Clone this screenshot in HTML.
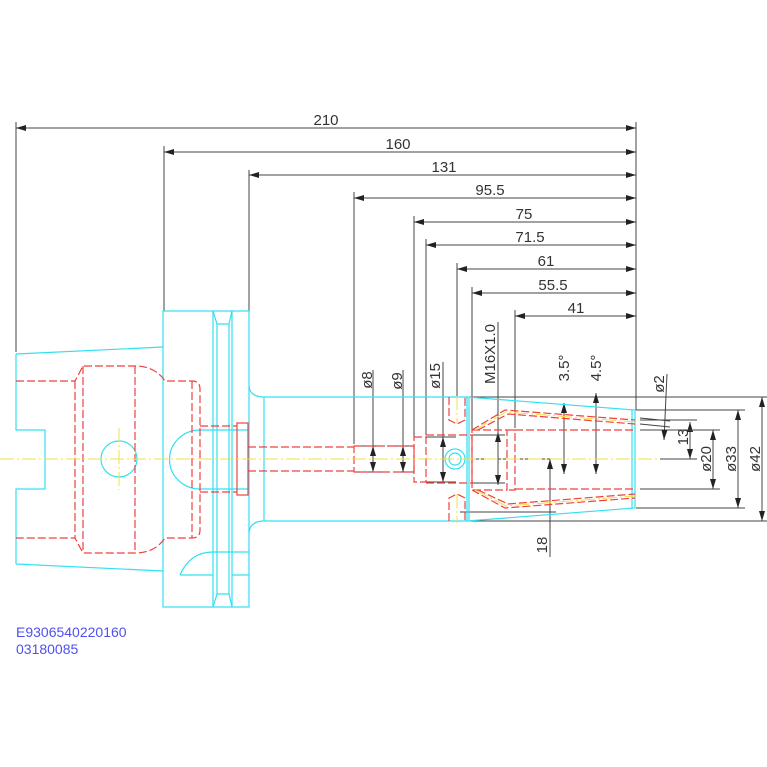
<!DOCTYPE html>
<html><head><style>body{margin:0;background:#fff}svg{display:block}</style></head><body>
<svg width="767" height="767" viewBox="0 0 767 767" xmlns="http://www.w3.org/2000/svg" font-family="Liberation Sans, sans-serif">
<rect width="767" height="767" fill="#fff"/>
<defs><marker id="a" viewBox="0 0 10 6" refX="10" refY="3" markerWidth="10" markerHeight="6" orient="auto-start-reverse" markerUnits="userSpaceOnUse"><path d="M0,0L10,3L0,6z" fill="#222"/></marker></defs>
<g stroke="#444" stroke-width="1" fill="none">
<line x1="636" y1="122" x2="636" y2="410"/>
<line x1="16" y1="122" x2="16" y2="352"/>
<line x1="164" y1="146" x2="164" y2="311"/>
<line x1="249" y1="170" x2="249" y2="311"/>
<line x1="354" y1="192" x2="354" y2="444"/>
<line x1="414" y1="216" x2="414" y2="437"/>
<line x1="426" y1="239" x2="426" y2="435"/>
<line x1="457" y1="263" x2="457" y2="397"/>
<line x1="472" y1="287" x2="472" y2="432"/>
<line x1="515" y1="310" x2="515" y2="428"/>
<g marker-start="url(#a)" marker-end="url(#a)">
<line x1="16" y1="128" x2="636" y2="128"/>
<line x1="164" y1="152" x2="636" y2="152"/>
<line x1="249" y1="175" x2="636" y2="175"/>
<line x1="354" y1="198" x2="636" y2="198"/>
<line x1="414" y1="222" x2="636" y2="222"/>
<line x1="426" y1="245" x2="636" y2="245"/>
<line x1="457" y1="269" x2="636" y2="269"/>
<line x1="472" y1="293" x2="636" y2="293"/>
<line x1="515" y1="316" x2="636" y2="316"/>
<line x1="373" y1="446" x2="373" y2="472"/>
<line x1="403" y1="446" x2="403" y2="472"/>
<line x1="443" y1="437" x2="443" y2="482"/>
<line x1="498" y1="432" x2="498" y2="485"/>
<line x1="690" y1="422" x2="690" y2="459"/>
<line x1="713" y1="430" x2="713" y2="489"/>
<line x1="738" y1="410" x2="738" y2="508"/>
<line x1="762" y1="397" x2="762" y2="521"/>
</g>
<line x1="354" y1="446" x2="385" y2="446"/><line x1="354" y1="472" x2="385" y2="472"/>
<line x1="395" y1="446" x2="414" y2="446"/><line x1="395" y1="472" x2="414" y2="472"/>
<line x1="426" y1="437" x2="456" y2="437"/><line x1="426" y1="482" x2="456" y2="482"/>
<line x1="472" y1="435" x2="505" y2="435"/><line x1="472" y1="483" x2="505" y2="483"/>
<line x1="373" y1="370" x2="373" y2="446"/><line x1="403" y1="370" x2="403" y2="446"/>
<line x1="443" y1="362" x2="443" y2="437"/><line x1="498" y1="322" x2="498" y2="432"/>
<line x1="467" y1="397" x2="767" y2="397"/><line x1="467" y1="521" x2="767" y2="521"/>
<line x1="636" y1="410" x2="745" y2="410"/><line x1="636" y1="508" x2="745" y2="508"/>
<line x1="640" y1="430" x2="720" y2="430"/><line x1="640" y1="489" x2="720" y2="489"/>
<line x1="640" y1="420" x2="697" y2="420"/><line x1="660" y1="459" x2="697" y2="459"/>
<line x1="640" y1="418" x2="670" y2="421"/><line x1="640" y1="424" x2="670" y2="427"/>
<line x1="467" y1="459" x2="556" y2="459"/><line x1="460" y1="512" x2="556" y2="512"/>
<line x1="550" y1="459" x2="550" y2="557" marker-start="url(#a)"/>
<line x1="564" y1="403" x2="564" y2="474" marker-start="url(#a)" marker-end="url(#a)"/>
<line x1="596" y1="393" x2="596" y2="474" marker-start="url(#a)" marker-end="url(#a)"/>
<line x1="667" y1="374" x2="664" y2="440" marker-end="url(#a)"/>
</g>
<g fill="#333" font-size="15" text-anchor="middle">
<text x="326" y="125">210</text><text x="398" y="149">160</text><text x="444" y="172">131</text>
<text x="490" y="195">95.5</text><text x="524" y="219">75</text><text x="530" y="242">71.5</text>
<text x="546" y="266">61</text><text x="553" y="290">55.5</text><text x="576" y="313">41</text>
<text transform="translate(372,380) rotate(-90)">ø8</text>
<text transform="translate(402,381) rotate(-90)">ø9</text>
<text transform="translate(440,376) rotate(-90)">ø15</text>
<text transform="translate(495,354) rotate(-90)">M16X1.0</text>
<text transform="translate(569,368) rotate(-90)">3.5°</text>
<text transform="translate(601,368) rotate(-90)">4.5°</text>
<text transform="translate(664,384) rotate(-90)">ø2</text>
<text transform="translate(688,437) rotate(-90)">13</text>
<text transform="translate(711,459) rotate(-90)">ø20</text>
<text transform="translate(736,459) rotate(-90)">ø33</text>
<text transform="translate(760,459) rotate(-90)">ø42</text>
<text transform="translate(547,545) rotate(-90)">18</text>
</g>
<g stroke="#33e0f0" stroke-width="1.2" fill="none">
<path d="M16,354 L163,347 M16,564 L163,571 M16,354 V430 H45 V489 H16 V564"/>
<rect x="163" y="311" width="86" height="296"/>
<path d="M213,311 L217,324 H229 L232,311 M213,607 L217,594 H229 L232,607"/>
<path d="M213,311 V607 M217,324 V594 M229,324 V594 M232,311 V607"/>
<path d="M200,430 H249 M200,489 H249"/>
<path d="M200,430 A30,29 0 0 0 200,489"/>
<path d="M180,575 Q190,552 213,552 H249 M180,575 H213 M232,575 H249"/>
<circle cx="119" cy="459" r="18"/>
<path d="M249,386 Q250,397 264,397 H467 L635,410 L635,508 L467,521 H264 Q250,521 249,533"/>
<path d="M264,397 V521 M467,397 V521 M469,398 V520"/>
<circle cx="455" cy="459" r="10"/><circle cx="455" cy="459" r="6"/>
<path d="M632,410 V508"/>
</g>
<g stroke="#f04040" stroke-width="1.2" fill="none" stroke-dasharray="8,3">
<path d="M16,381 H75 L83,366 H135 Q155,366 165,381 H192 Q200,381 200,389 V530 Q200,538 192,538 H165 Q155,553 135,553 H83 L75,538 H16"/>
<path d="M75,381 V538 M83,366 V553 M135,366 V553 M192,381 V538"/>
<path d="M200,426 H237 M200,492 H237 M248,447 H354 M248,471 H354"/>
<rect x="237" y="423" width="11" height="72" stroke-dasharray="none"/>
<rect x="354" y="446" width="60" height="26"/>
<path d="M414,437 H426 V482 H414 Z M426,435 H472 V483 H426"/>
<path d="M472,430 H507 V490 H472 Z M507,430 H515 V490 H507"/>
<path d="M472,430 L505,410 L635,420 M472,490 L505,508 L635,498"/>
<path d="M478,430 L508,414 L635,424 M478,490 L508,504 L635,494"/>
<path d="M515,430 H635 M515,489 H635"/>
<path d="M449,397 V420 L457,424 L465,420 V397 M449,521 V498 L457,494 L465,498 V521"/>
</g>
<g stroke="#f0e040" stroke-width="1" fill="none" stroke-dasharray="14,3,2,3">
<line x1="0" y1="459" x2="660" y2="459"/>
<line x1="119" y1="428" x2="119" y2="490"/>
<path d="M475,430 L506,412 L635,422 M475,490 L506,506 L635,496"/>
<line x1="457" y1="396" x2="457" y2="424"/><line x1="457" y1="494" x2="457" y2="523"/>
</g>
<g fill="#5050f0" font-size="14"><text x="16" y="637">E9306540220160</text><text x="16" y="654">03180085</text></g>
</svg>
</body></html>
